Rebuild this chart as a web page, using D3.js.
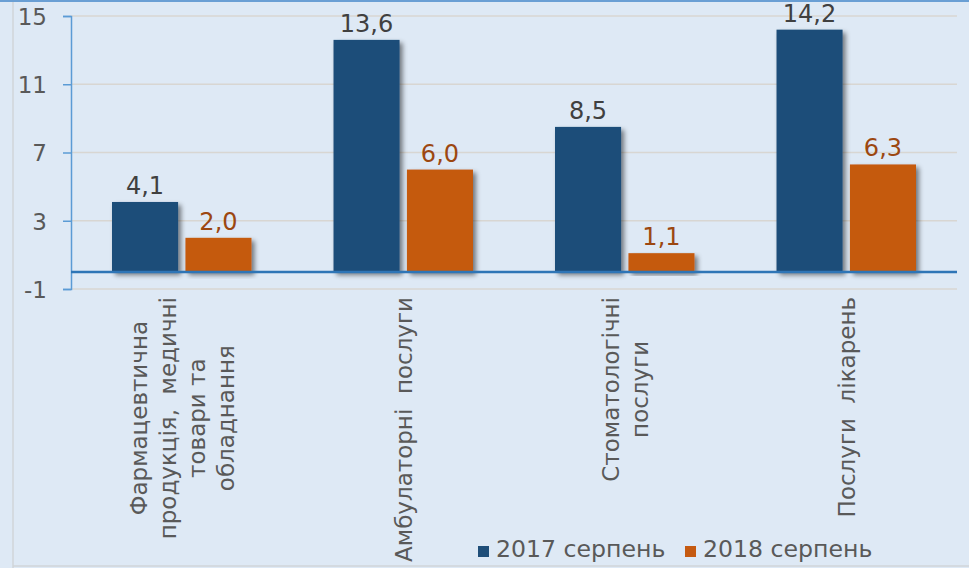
<!DOCTYPE html>
<html>
<head>
<meta charset="utf-8">
<script src="https://cdn.jsdelivr.net/npm/d3@7"></script>
<style>
  body { margin: 0; background: #dee9f5; }
  svg { display: block; font-family: "DejaVu Sans", Verdana, sans-serif; }
</style>
</head>
<body>
<svg id="chart"></svg>
<script>
// Data
const categories = [
    ["Фармацевтична", "продукція,  медичні", "товари та", "обладнання"],
    ["Амбулаторні  послуги"],
    ["Стоматологічні", "послуги"],
    ["Послуги  лікарень"]
];
const seriesNames = ["2017 серпень", "2018 серпень"];
const values2017 = [4.1, 13.6, 8.5, 14.2];
const values2018 = [2.0, 6.0, 1.1, 6.3];
const yTicks = [-1, 3, 7, 11, 15];

const colors = ["#1f4e79", "#c55a11"];
const labelColors = ["#404040", "#9c4710"];

const W = 969, H = 568;
const margin = { top: 16, right: 12, bottom: 279, left: 71 };
const width = W - margin.left - margin.right;
const height = H - margin.top - margin.bottom;

const svg = d3.select("#chart")
    .attr("width", W)
    .attr("height", H);

// background + frame
svg.append("rect").attr("width", W).attr("height", H).attr("fill", "#dee9f5");
svg.append("line").attr("x1", 0).attr("x2", W).attr("y1", 1).attr("y2", 1)
    .attr("stroke", "#6a9fd4").attr("stroke-width", 2);
svg.append("line").attr("x1", 13).attr("x2", 13).attr("y1", 2).attr("y2", H)
    .attr("stroke", "#d0d4d8").attr("stroke-width", 1.5);
svg.append("line").attr("x1", 13).attr("x2", W).attr("y1", H - 2).attr("y2", H - 2)
    .attr("stroke", "#d0d4d8").attr("stroke-width", 1.5);

// shadow filter
const defs = svg.append("defs");
const f = defs.append("filter").attr("id", "shadow")
    .attr("x", "-20%").attr("y", "-20%").attr("width", "140%").attr("height", "140%");
f.append("feGaussianBlur").attr("in", "SourceAlpha").attr("stdDeviation", 2.5);
f.append("feOffset").attr("dx", 3).attr("dy", 3).attr("result", "off");
f.append("feComponentTransfer").append("feFuncA").attr("type", "linear").attr("slope", 0.5);
const merge = f.append("feMerge");
merge.append("feMergeNode");
merge.append("feMergeNode").attr("in", "SourceGraphic");

const g = svg.append("g")
    .attr("transform", "translate(" + margin.left + "," + margin.top + ")");

// scales
const x0 = d3.scaleBand()
    .domain(d3.range(categories.length))
    .range([0, width]);

const x1 = d3.scaleBand()
    .domain(seriesNames)
    .range([41, x0.bandwidth() - 41])
    .paddingInner(0.1);

const y = d3.scaleLinear()
    .domain([-1, 15])
    .range([height, 0]);

// gridlines
g.selectAll(".grid")
    .data(yTicks)
    .enter().append("line")
    .attr("x1", 0).attr("x2", width)
    .attr("y1", d => y(d)).attr("y2", d => y(d))
    .attr("stroke", "#d8d6d2").attr("stroke-width", 1.5);

// y axis
const yAxis = g.append("g")
    .call(d3.axisLeft(y).tickValues(yTicks).tickSize(8).tickPadding(16).tickFormat(d => String(d)));
yAxis.select(".domain").attr("stroke", "#5b9bd5").attr("stroke-width", 1.5);
yAxis.selectAll(".tick line").attr("stroke", "#5b9bd5").attr("stroke-width", 1.5);
yAxis.selectAll(".tick text")
    .attr("fill", "#595959")
    .style("font-size", "23px")
    .style("font-family", "DejaVu Sans, Verdana, sans-serif")
    .attr("dy", "0.36em");

// bars
const rows = categories.map((c, i) => ({ i: i, vals: [values2017[i], values2018[i]] }));

const groups = g.selectAll(".cat")
    .data(rows)
    .enter().append("g")
    .attr("transform", d => "translate(" + x0(d.i) + ",0)");

groups.selectAll("rect")
    .data(d => d.vals.map((v, k) => ({ k: k, v: v })))
    .enter().append("rect")
    .attr("x", d => x1(seriesNames[d.k]))
    .attr("width", x1.bandwidth())
    .attr("y", d => y(d.v))
    .attr("height", d => y(0) - y(d.v))
    .attr("fill", d => colors[d.k])
    .attr("filter", "url(#shadow)");

groups.selectAll(".val")
    .data(d => d.vals.map((v, k) => ({ k: k, v: v })))
    .enter().append("text")
    .attr("x", d => x1(seriesNames[d.k]) + x1.bandwidth() / 2)
    .attr("y", d => y(d.v) - 8)
    .attr("text-anchor", "middle")
    .attr("fill", d => labelColors[d.k])
    .style("font-size", "24px")
    .text(d => d.v.toFixed(1).replace(".", ","));

// zero line
g.append("line")
    .attr("x1", 0).attr("x2", width)
    .attr("y1", y(0)).attr("y2", y(0))
    .attr("stroke", "#2e75b6").attr("stroke-width", 2.5);

// category labels (rotated)
const lineH = 29;
categories.forEach((lines, i) => {
    const cx = margin.left + x0(i) + x0.bandwidth() / 2;
    const lg = svg.append("g")
        .attr("transform", "translate(" + cx + "," + 297 + ") rotate(-90)");
    const texts = lg.selectAll("text")
        .data(lines)
        .enter().append("text")
        .attr("y", (d, k) => (k - (lines.length - 1) / 2) * lineH)
        .attr("dy", "0.36em")
        .attr("text-anchor", "middle")
        .attr("fill", "#595959")
        .style("font-size", "23px")
        .style("white-space", "pre")
        .text(d => d);
    let maxW = 0;
    texts.each(function() { maxW = Math.max(maxW, this.getComputedTextLength()); });
    texts.attr("x", -maxW / 2);
});

// legend
const legend = svg.append("g").attr("transform", "translate(478,557)");
const legX = [0, 207];
seriesNames.forEach((s, k) => {
    legend.append("rect")
        .attr("x", legX[k]).attr("y", -11)
        .attr("width", 11).attr("height", 11)
        .attr("fill", colors[k]);
    legend.append("text")
        .attr("x", legX[k] + 18).attr("y", 0)
        .attr("fill", "#595959")
        .style("font-size", "23.6px")
        .text(s);
});
</script>
</body>
</html>
